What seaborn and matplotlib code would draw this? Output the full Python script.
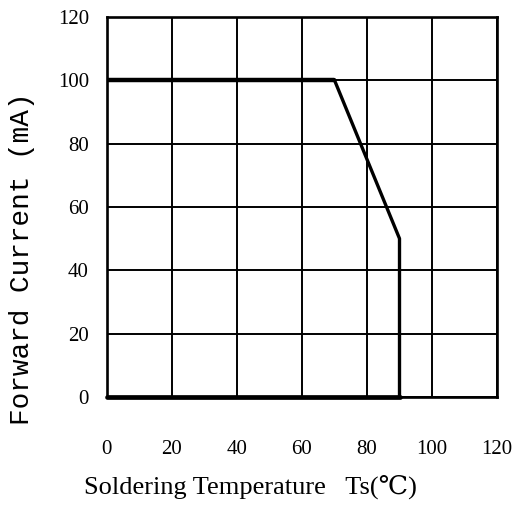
import matplotlib
matplotlib.use("Agg")
import matplotlib.pyplot as plt
import pandas as pd
import seaborn as sns

# derating curve: forward current vs soldering temperature
curve_temp = [0, 70, 90, 90]
curve_current = [100, 100, 50, 0]
base_temp = [0, 90]
base_current = [0, 0]

x_ticks = [0, 20, 40, 60, 80, 100, 120]
y_ticks = [0, 20, 40, 60, 80, 100, 120]

x_label = "Soldering Temperature   Ts(\u2103)"
y_label = "Forward Current (mA)"

sns.set_style("white")
serif = ["Liberation Serif", "DejaVu Serif", "Noto Sans CJK SC"]
mono = ["Liberation Mono", "DejaVu Sans Mono"]
plt.rcParams["font.family"] = serif

fig = plt.figure(figsize=(5.14, 5.09), dpi=100)
ax = fig.add_axes([0.208, 0.22, 0.759, 0.747])

curve = pd.DataFrame({"temp": curve_temp, "current": curve_current})
base = pd.DataFrame({"temp": base_temp, "current": base_current})

sns.lineplot(data=curve, x="temp", y="current", sort=False, estimator=None,
             color="black", linewidth=2.4, ax=ax, zorder=5)
# heavier top flat segment
sns.lineplot(data=curve.iloc[:2], x="temp", y="current", sort=False, estimator=None,
             color="black", linewidth=3.2, ax=ax, zorder=5)
sns.lineplot(data=base, x="temp", y="current", sort=False, estimator=None,
             color="black", linewidth=3.4, ax=ax, zorder=5, clip_on=False)

ax.set_xlim(0, 120)
ax.set_ylim(0, 120)
ax.set_xticks(x_ticks)
ax.set_yticks(y_ticks)
ax.grid(True, color="black", linewidth=1.4)
ax.set_axisbelow(True)
for side in ax.spines.values():
    side.set_visible(True)
    side.set_color("black")
    side.set_linewidth(1.9)

ax.tick_params(axis="both", length=0, labelsize=15, colors="black")
ax.tick_params(axis="x", pad=31)
ax.tick_params(axis="y", pad=13)

ax.set_xlabel(x_label, fontsize=19, family=serif, color="black")
ax.xaxis.set_label_coords(0.367, -0.205)
ax.xaxis.label.set_va("top")

ax.set_ylabel(y_label, fontsize=20, family=mono, color="black")
ax.yaxis.set_label_coords(-0.252, 0.363)
ax.yaxis.label.set_va("top")

fig.savefig("out.png", dpi=100)
